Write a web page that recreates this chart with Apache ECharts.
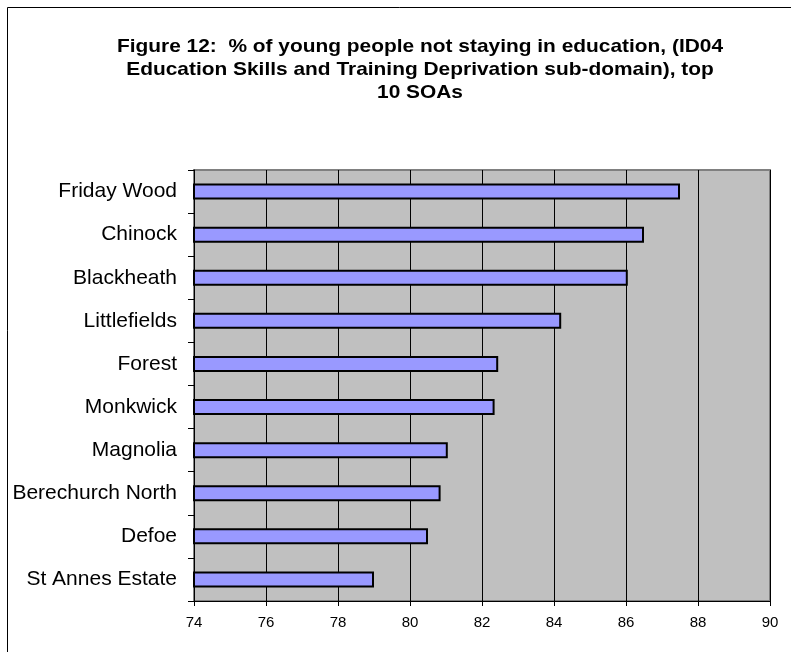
<!DOCTYPE html>
<html>
<head>
<meta charset="utf-8">
<script src="https://cdn.jsdelivr.net/npm/echarts@6/dist/echarts.min.js"></script>
<style>
html,body{margin:0;padding:0;background:#fff;}
#chart{width:791px;height:652px;}
</style>
</head>
<body>
<div id="chart"></div>
<script>
// areas, top to bottom
var areas = ['Friday Wood','Chinock','Blackheath','Littlefields','Forest','Monkwick','Magnolia','Berechurch North','Defoe','St Annes Estate'];
var pct = [87.5, 86.5, 86.05, 84.2, 82.45, 82.35, 81.05, 80.85, 80.5, 79.0];
var titleLines = [
  'Figure 12:  % of young people not staying in education, (ID04',
  'Education Skills and Training Deprivation sub-domain), top',
  '10 SOAs'
];

var font = '"Liberation Sans", Arial, sans-serif';
var chart = echarts.init(document.getElementById('chart'));

// title lines, a little wider than plain Arial like the original
var titleTexts = titleLines.map(function (t, i) {
  return {
    type: 'text', x: 420, y: 47 + i * 23, scaleX: 1.1,
    style: {text: t, font: 'bold 19px ' + font, fill: '#000', textAlign: 'center', textVerticalAlign: 'middle'}
  };
});

var option = {
  animation: false,
  backgroundColor: '#fff',
  graphic: [
    {type:'rect', shape:{x:7.5, y:7.5, width:800, height:700}, style:{fill:'none', stroke:'#000', lineWidth:1}, silent:true}
  ].concat(titleTexts),
  grid: {
    left: 194, right: 21, top: 170, bottom: 51,
    show: true, backgroundColor: '#c0c0c0', borderColor: '#808080', borderWidth: 2
  },
  xAxis: {
    type: 'value', min: 74, max: 90, interval: 2,
    axisLine: {show: true, lineStyle: {color: '#000', width: 1}},
    axisTick: {show: true, length: 5, lineStyle: {color: '#000'}},
    axisLabel: {color: '#000', fontSize: 15, fontFamily: font, margin: 14},
    splitLine: {show: true, lineStyle: {color: '#000', width: 1}}
  },
  yAxis: {
    type: 'category', data: areas, inverse: true,
    axisLine: {show: true, lineStyle: {color: '#000', width: 1}},
    axisTick: {show: true, length: 6, lineStyle: {color: '#000'}},
    axisLabel: {color: '#000', fontSize: 21, fontFamily: font, margin: 17}
  },
  series: [{
    type: 'bar',
    data: pct,
    barWidth: 16,
    itemStyle: {color: '#9999ff', borderColor: '#000', borderWidth: 2}
  }]
};
chart.setOption(option);
</script>
</body>
</html>
